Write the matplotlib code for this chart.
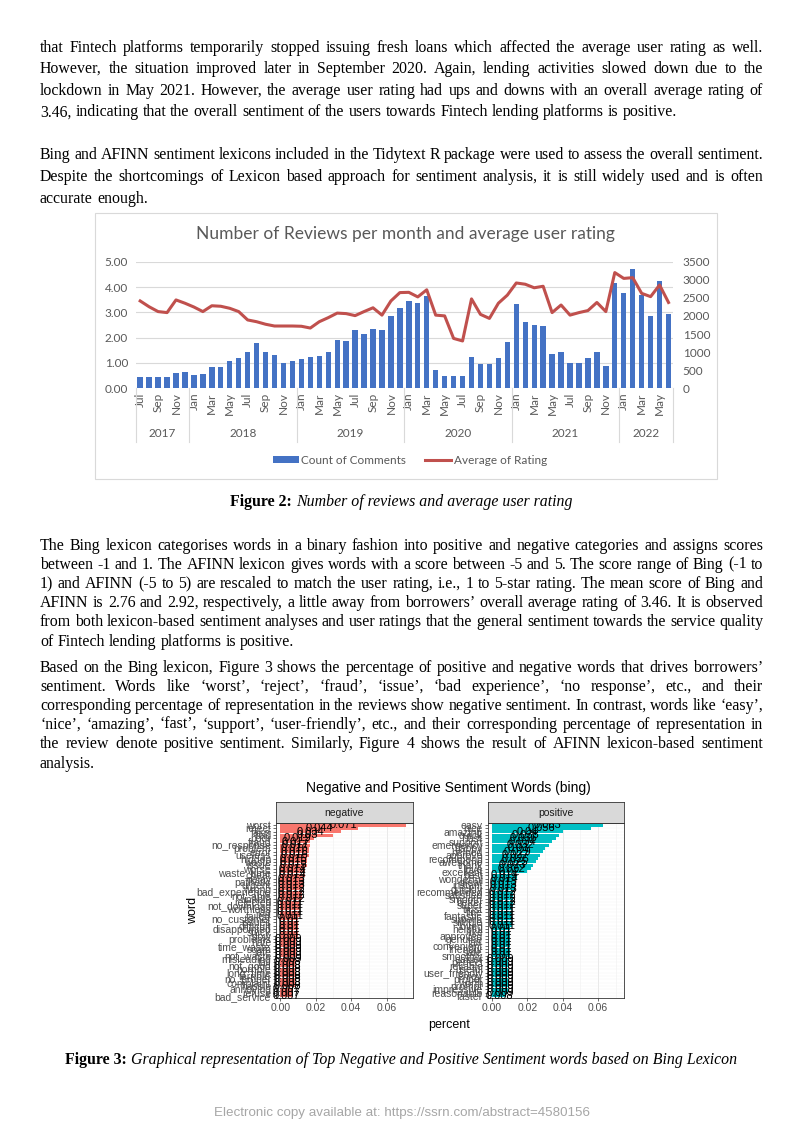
import matplotlib.pyplot as plt
from matplotlib.patches import Rectangle
import numpy as np

W, H = 802, 1133

# ---- Figure 2 data: reviews per month and average rating, Jul 2017 - Jun 2022
month_names = ['Jan', 'Feb', 'Mar', 'Apr', 'May', 'Jun', 'Jul', 'Aug', 'Sep', 'Oct', 'Nov', 'Dec']
months = month_names[6:] + month_names * 4 + month_names[:6]
years = ['2017', '2018', '2019', '2020', '2021', '2022']
year_len = [6, 12, 12, 12, 12, 6]

count_comments = [300, 305, 320, 320, 425, 440,
                  360, 405, 580, 600, 755, 845, 995, 1255, 1015, 920, 700, 755,
                  820, 855, 905, 1015, 1335, 1315, 1610, 1490, 1640, 1620, 1990, 2210,
                  2415, 2350, 2560, 505, 350, 330, 330, 855, 670, 665, 830, 1290,
                  2320, 1835, 1750, 1730, 940, 1015, 710, 700, 840, 1015, 625, 2900,
                  2625, 3295, 2570, 2000, 2965, 2065]
avg_rating = [3.45, 3.22, 3.03, 2.99, 3.49, 3.36,
              3.21, 3.03, 3.26, 3.24, 3.16, 3.03, 2.70, 2.63, 2.53, 2.46, 2.46, 2.46,
              2.45, 2.38, 2.63, 2.79, 2.97, 2.95, 2.87, 3.03, 3.18, 2.89, 3.45, 3.78,
              3.79, 3.61, 3.89, 2.89, 2.86, 1.97, 1.87, 3.53, 2.92, 2.76, 3.36, 3.68,
              4.16, 4.11, 3.97, 4.03, 2.99, 3.29, 2.89, 2.99, 3.07, 3.39, 3.03, 4.57,
              4.34, 4.37, 3.75, 3.62, 4.08, 3.39]

# ---- Figure 3 data: bing sentiment words
neg_words = ['worst', 'reject', 'fake', 'bad', 'poor', 'fraud', 'no_response', 'problem',
             'error', 'useless', 'hidden', 'waste', 'issue', 'worse', 'waste_time', 'cheat',
             'delay', 'pathetic', 'urgent', 'wrong', 'bad_experience', 'not_able', 'unable',
             'rejected', 'not_download', 'worthless', 'lag', 'failed', 'no_customer', 'issues',
             'difficult', 'disappointed', 'stuck', 'slow', 'problems', 'hate', 'time_waste',
             'scam', 'late', 'not_waste', 'misleading', 'fail', 'not_good', 'horrible',
             'long_time', 'terrible', 'no_proper', 'complaint', 'hassle', 'annoying',
             'refuse', 'bad_service']
neg_pct = [0.071, 0.044, 0.034, 0.030, 0.019, 0.017, 0.017, 0.016, 0.016, 0.016,
           0.015, 0.015, 0.015, 0.014, 0.014, 0.014, 0.013, 0.013, 0.013, 0.012,
           0.012, 0.012, 0.012, 0.011, 0.011, 0.011, 0.011, 0.011, 0.010, 0.010,
           0.010, 0.010, 0.010, 0.010, 0.009, 0.009, 0.009, 0.009, 0.009, 0.009,
           0.009, 0.008, 0.008, 0.008, 0.008, 0.008, 0.008, 0.008, 0.008, 0.007,
           0.007, 0.007]
pos_words = ['easy', 'nice', 'amazing', 'quick', 'fast', 'support', 'emergency', 'happy',
             'helped', 'approve', 'recommend', 'awesome', 'thank', 'love', 'excellent',
             'best', 'wonderful', 'great', 'instant', 'quickly', 'recommended', 'satisfied',
             'smooth', 'better', 'super', 'trust', 'fine', 'fantastic', 'superb', 'simple',
             'loved', 'helpful', 'like', 'approved', 'genuine', 'fair', 'convenient',
             'friendly', 'safe', 'smoothly', 'easier', 'perfect', 'reliable', 'useful',
             'user_friendly', 'enjoy', 'proper', 'worth', 'prompt', 'impressive',
             'reasonable', 'faster']
pos_pct = [0.063, 0.056, 0.040, 0.038, 0.036, 0.034, 0.032, 0.030, 0.029, 0.027,
           0.026, 0.025, 0.023, 0.022, 0.020, 0.014, 0.014, 0.013, 0.013, 0.013,
           0.012, 0.012, 0.012, 0.012, 0.012, 0.011, 0.011, 0.011, 0.011, 0.011,
           0.011, 0.010, 0.010, 0.010, 0.010, 0.010, 0.010, 0.010, 0.010, 0.010,
           0.009, 0.009, 0.009, 0.009, 0.009, 0.009, 0.009, 0.009, 0.009, 0.009,
           0.009, 0.008]

# ---- page text: paragraphs (first line centre y in px, line step, lines)
X0, X1 = 40, 763
paragraphs = [
    (47, 21.6, [
        'that Fintech platforms temporarily stopped issuing fresh loans which affected the average user rating as well.',
        'However, the situation improved later in September 2020. Again, lending activities slowed down due to the',
        'lockdown in May 2021. However, the average user rating had ups and downs with an overall average rating of',
        '3.46, indicating that the overall sentiment of the users towards Fintech lending platforms is positive.']),
    (155, 21.6, [
        'Bing and AFINN sentiment lexicons included in the Tidytext R package were used to assess the overall sentiment.',
        'Despite the shortcomings of Lexicon based approach for sentiment analysis, it is still widely used and is often',
        'accurate enough.']),
    (545, 19.2, [
        'The Bing lexicon categorises words in a binary fashion into positive and negative categories and assigns scores',
        'between -1 and 1. The AFINN lexicon gives words with a score between -5 and 5. The score range of Bing (-1 to',
        '1) and AFINN (-5 to 5) are rescaled to match the user rating, i.e., 1 to 5-star rating. The mean score of Bing and',
        'AFINN is 2.76 and 2.92, respectively, a little away from borrowers\u2019 overall average rating of 3.46. It is observed',
        'from both lexicon-based sentiment analyses and user ratings that the general sentiment towards the service quality',
        'of Fintech lending platforms is positive.']),
    (667, 19.2, [
        'Based on the Bing lexicon, Figure 3 shows the percentage of positive and negative words that drives borrowers\u2019',
        'sentiment. Words like \u2018worst\u2019, \u2018reject\u2019, \u2018fraud\u2019, \u2018issue\u2019, \u2018bad experience\u2019, \u2018no response\u2019, etc., and their',
        'corresponding percentage of representation in the reviews show negative sentiment. In contrast, words like \u2018easy\u2019,',
        '\u2018nice\u2019, \u2018amazing\u2019, \u2018fast\u2019, \u2018support\u2019, \u2018user-friendly\u2019, etc., and their corresponding percentage of representation in',
        'the review denote positive sentiment. Similarly, Figure 4 shows the result of AFINN lexicon-based sentiment',
        'analysis.']),
]


def box(x0, y0, x1, y1):
    return [x0 / W, 1 - y1 / H, (x1 - x0) / W, (y1 - y0) / H]


fig = plt.figure(figsize=(W / 100, H / 100), dpi=100)
fig.patch.set_facecolor('white')
renderer = fig.canvas.get_renderer()


def text_w(s, **kw):
    t = fig.text(0, 0, s, **kw)
    w = t.get_window_extent(renderer).width
    t.remove()
    return w


# pick the body size so that every justified line still fits the column
serif = 'Liberation Serif'
probe = dict(family=serif, fontsize=10)
sp10 = text_w('a a', **probe) - text_w('aa', **probe)
fs = 11.6
for _, _, lines in paragraphs:
    for s in lines[:-1]:
        words = s.split(' ')
        nat = sum(text_w(w, **probe) for w in words) + (len(words) - 1) * sp10 * 0.9
        fs = min(fs, 10 * (X1 - X0) / nat)
body = dict(family=serif, fontsize=fs, color='black')
space_w = text_w('a a', **body) - text_w('aa', **body)


def put_line(y, s, justify):
    words = s.split(' ')
    ws = [text_w(w, **body) for w in words]
    gap = (X1 - X0 - sum(ws)) / (len(words) - 1) if justify else space_w
    x = X0
    for w, wd in zip(words, ws):
        fig.text(x / W, 1 - (y + 4.5) / H, w, va='baseline', ha='left', **body)
        x += wd + gap


def put_caption(y, bold, rest):
    b = dict(body, weight='bold')
    it = dict(body, style='italic')
    wb, wi = text_w(bold, **b), text_w(rest, **it)
    x = 401 - (wb + space_w + wi) / 2
    fig.text(x / W, 1 - (y + 4.5) / H, bold, va='baseline', **b)
    fig.text((x + wb + space_w) / W, 1 - (y + 4.5) / H, rest, va='baseline', **it)


for y0, step, lines in paragraphs:
    for i, s in enumerate(lines):
        put_line(y0 + i * step, s, i < len(lines) - 1)

put_caption(501, 'Figure 2:', 'Number of reviews and average user rating')
put_caption(1060, 'Figure 3:', 'Graphical representation of Top Negative and Positive Sentiment words based on Bing Lexicon')

fig.text(402 / W, 1 - 1113 / H, 'Electronic copy available at: https://ssrn.com/abstract=4580156',
         ha='center', va='center', family='Liberation Sans', fontsize=9.6, color='#A6A6A6')

# ---------------- Figure 2: Excel style combo chart ----------------
xl = dict(family='Lato', color='#595959')
fig.add_artist(Rectangle((95 / W, 1 - 479 / H), 622 / W, 266 / H, transform=fig.transFigure,
                         facecolor='white', edgecolor='#D9D9D9', lw=0.8, zorder=0))
fig.text(405 / W, 1 - 234 / H, 'Number of Reviews per month and average user rating',
         ha='center', va='center', fontsize=12.5, **xl)

ax1 = fig.add_axes(box(135.7, 261.7, 673, 388.3))
ax2 = ax1.twinx()
x = np.arange(len(months))
bars = ax2.bar(x, count_comments, width=0.6, color='#4472C4', zorder=2)
line, = ax1.plot(x, avg_rating, color='#C0504D', lw=2.2, zorder=3, solid_joinstyle='round')
ax1.set_zorder(ax2.get_zorder() + 1)
ax1.patch.set_visible(False)

ax1.set_xlim(-0.5, len(months) - 0.5)
ax1.set_ylim(0, 5)
ax2.set_ylim(0, 3500)
ax1.set_yticks(np.arange(0, 6))
ax1.set_yticklabels([f'{v:.2f}' for v in range(6)], fontsize=8.5, **xl)
ax2.set_yticks(np.arange(0, 3501, 500))
ax2.set_yticklabels([str(v) for v in range(0, 3501, 500)], fontsize=8.5, **xl)
ax1.set_xticks(x[::2])
ax1.set_xticklabels(months[::2], rotation=90, fontsize=8.5, **xl)
ax1.tick_params(axis='x', length=0, pad=3)
ax1.tick_params(axis='y', length=0, pad=5.5)
ax2.tick_params(axis='y', length=0, pad=7)
for a in (ax1, ax2):
    for sp in a.spines.values():
        sp.set_visible(False)
for v in range(1, 6):
    ax2.axhline(v * 700, color='#D9D9D9', lw=0.8, zorder=0)
ax2.axhline(0, color='#BFBFBF', lw=0.8, zorder=1)

# multi level category axis: year labels + separators
xt = ax1.get_xaxis_transform()
edges = np.concatenate([[0], np.cumsum(year_len)]) - 0.5
for e in edges:
    ax1.plot([e, e], [0, -0.425], transform=xt, color='#D9D9D9', lw=0.8, clip_on=False)
for yr, a, b in zip(years, edges[:-1], edges[1:]):
    ax1.text((a + b) / 2, -0.36, yr, transform=xt, ha='center', va='center', fontsize=8.5, **xl)

fig.legend([bars, line], ['Count of Comments', 'Average of Rating'], loc='center',
           bbox_to_anchor=(410 / W, 1 - 460 / H), ncol=2, frameon=False,
           prop=dict(family='Lato', size=8.5), labelcolor='#595959',
           handlelength=2.2, handleheight=0.5, handletextpad=0.2, columnspacing=1.6)

# ---------------- Figure 3: ggplot style facet bars ----------------
gg = dict(family='Liberation Sans')
fig.text(448.5 / W, 1 - 788 / H, 'Negative and Positive Sentiment Words (bing)',
         ha='center', va='center', fontsize=10, color='black', **gg)
fig.text(193 / W, 1 - 910 / H, 'word', rotation=90, ha='center', va='center', fontsize=9, **gg)
fig.text(449 / W, 1 - 1025 / H, 'percent', ha='center', va='center', fontsize=9, **gg)

panels = [((276, 412.7), neg_words, neg_pct, '#F8766D', 'negative'),
          ((487.7, 624), pos_words, pos_pct, '#00BFC4', 'positive')]
for (px0, px1), words, vals, col, strip in panels:
    ax = fig.add_axes(box(px0, 823, px1, 998))
    n = len(words)
    ypos = np.arange(n)[::-1]
    ax.barh(ypos, vals, height=0.9, color=col, zorder=2)
    for yy, v in zip(ypos, vals):
        ax.text(v / 2, yy, f'{v:g}', ha='center', va='center', fontsize=8, color='black', zorder=3, **gg)
    ax.set_ylim(-0.6, n - 0.4)
    ax.set_xlim(-0.0025, 0.0748)
    ax.set_yticks(ypos)
    ax.set_yticklabels(words, fontsize=7.5, color='#4D4D4D', **gg)
    ax.set_xticks([0, 0.02, 0.04, 0.06])
    ax.set_xticklabels(['0.00', '0.02', '0.04', '0.06'], fontsize=7.5, color='#4D4D4D', **gg)
    ax.set_xticks([0.01, 0.03, 0.05, 0.07], minor=True)
    ax.grid(which='major', axis='x', color='#E5E5E5', lw=0.6)
    ax.grid(which='minor', axis='x', color='#F0F0F0', lw=0.4)
    ax.grid(which='major', axis='y', color='#F2F2F2', lw=0.3)
    ax.set_axisbelow(True)
    ax.tick_params(which='major', length=2, width=0.5, color='#333333', pad=1.5)
    ax.tick_params(which='minor', length=0)
    for sp in ax.spines.values():
        sp.set_color('#333333')
        sp.set_linewidth(0.6)
    sax = fig.add_axes(box(px0, 802, px1, 823))
    sax.set_facecolor('#D9D9D9')
    sax.set_xticks([])
    sax.set_yticks([])
    for sp in sax.spines.values():
        sp.set_color('#333333')
        sp.set_linewidth(0.6)
    sax.text(0.5, 0.5, strip, ha='center', va='center', fontsize=7.5, color='#1A1A1A',
             transform=sax.transAxes, **gg)

fig.savefig('out.png', dpi=100, facecolor='white')
